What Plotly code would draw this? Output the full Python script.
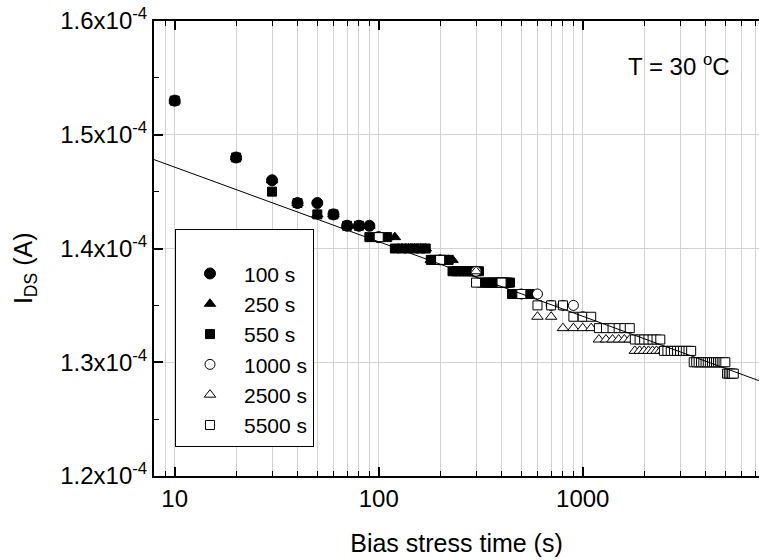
import plotly.graph_objects as go

# ---------------- data (I_DS in units of 1e-4 A) ----------------
t_100 = list(range(10, 101, 10))
i_100 = [1.53, 1.48, 1.46, 1.44, 1.44, 1.43, 1.42, 1.42, 1.42, 1.41]

t_250 = list(range(10, 251, 10))
i_250 = [1.53, 1.48, 1.46, 1.44, 1.43, 1.43, 1.42, 1.42, 1.42, 1.41,
         1.41, 1.41, 1.40, 1.40, 1.40, 1.40, 1.40, 1.39, 1.39, 1.39,
         1.39, 1.39, 1.39, 1.38, 1.38]

t_550 = list(range(10, 551, 10))
i_550 = [1.53, 1.48, 1.45, 1.44, 1.43, 1.43, 1.42, 1.42, 1.41, 1.41,
         1.41, 1.40, 1.40, 1.40, 1.40, 1.40, 1.40, 1.39, 1.39, 1.39,
         1.39, 1.39, 1.38, 1.38, 1.38, 1.38, 1.38, 1.38, 1.38, 1.38,
         1.38, 1.37, 1.37, 1.37, 1.37, 1.37, 1.37, 1.37, 1.37, 1.37,
         1.37, 1.37, 1.37, 1.37, 1.36, 1.36, 1.36, 1.36, 1.36, 1.36,
         1.36, 1.36, 1.36, 1.36, 1.36]

t_1000 = list(range(100, 1001, 100))
i_1000 = [1.41, 1.39, 1.38, 1.37, 1.36, 1.36, 1.35, 1.35, 1.35, 1.34]

t_2500 = list(range(100, 2501, 100))
i_2500 = [1.41, 1.39, 1.38, 1.37, 1.36, 1.34, 1.34, 1.33, 1.33, 1.33,
          1.33, 1.32, 1.32, 1.32, 1.32, 1.32, 1.32, 1.31, 1.31, 1.31,
          1.31, 1.31, 1.31, 1.31, 1.31]

t_5500 = list(range(100, 5501, 100))
i_5500 = [1.41, 1.39, 1.37, 1.37, 1.36, 1.35, 1.35, 1.35, 1.34, 1.34,
          1.34, 1.33, 1.33, 1.33, 1.33, 1.33, 1.33, 1.32, 1.32, 1.32,
          1.32, 1.32, 1.32, 1.32, 1.31, 1.31, 1.31, 1.31, 1.31, 1.31,
          1.31, 1.31, 1.31, 1.31, 1.30, 1.30, 1.30, 1.30, 1.30, 1.30,
          1.30, 1.30, 1.30, 1.30, 1.30, 1.30, 1.30, 1.30, 1.30, 1.30,
          1.29, 1.29, 1.29, 1.29, 1.29]

# straight-line fit (at the two plot edges)
fit_t = [7.91, 7311]
fit_i = [1.4782, 1.2838]

y_ticks = [1.2, 1.3, 1.4, 1.5, 1.6]
y_tick_text = ["1.2x10<sup>-4</sup>", "1.3x10<sup>-4</sup>", "1.4x10<sup>-4</sup>",
               "1.5x10<sup>-4</sup>", "1.6x10<sup>-4</sup>"]
y_minor = [1.25, 1.35, 1.45, 1.55]
x_ticks = [10, 100, 1000]
x_tick_text = ["10", "100", "1000"]
x_minor = [8, 9, 20, 30, 40, 50, 60, 70, 80, 90,
           200, 300, 400, 500, 600, 700, 800, 900,
           2000, 3000, 4000, 5000, 6000, 7000]

SCALE = 1e-4
FONT = "Liberation Sans, Arial, sans-serif"
GRID = "#d2d2d2"

series = [
    ("100 s", t_100, i_100, "circle", "black", 11),
    ("250 s", t_250, i_250, "triangle-up", "black", 10),
    ("550 s", t_550, i_550, "square", "black", 9),
    ("1000 s", t_1000, i_1000, "circle", "white", 10),
    ("2500 s", t_2500, i_2500, "triangle-up", "white", 10),
    ("5500 s", t_5500, i_5500, "square", "white", 9),
]

fig = go.Figure()
for name, t, i, sym, fill, size in series:
    fig.add_trace(go.Scatter(
        x=t, y=[v * SCALE for v in i], mode="markers", name=name,
        marker=dict(symbol=sym, size=size, color=fill,
                    line=dict(color="black", width=1)),
    ))

fig.add_trace(go.Scatter(
    x=fit_t, y=[v * SCALE for v in fit_i], mode="lines",
    line=dict(color="black", width=1), showlegend=False, hoverinfo="skip",
))

fig.update_xaxes(
    type="log", range=[0.8985, 3.864],
    tickmode="array", tickvals=x_ticks, ticktext=x_tick_text,
    ticks="inside", ticklen=9, tickwidth=1.5, tickcolor="black",
    showline=True, linewidth=2, linecolor="black", mirror="allticks",
    showgrid=True, gridcolor=GRID, gridwidth=1, zeroline=False,
    minor=dict(tickmode="array", tickvals=x_minor, ticks="inside", ticklen=5,
               tickwidth=1, tickcolor="black", showgrid=True,
               gridcolor=GRID, gridwidth=1),
    tickfont=dict(family=FONT, size=24, color="black"),
    title=dict(text="Bias stress time (s)", font=dict(family=FONT, size=25, color="black"),
               standoff=24),
)

fig.update_yaxes(
    range=[1.2 * SCALE, 1.6 * SCALE],
    tickmode="array", tickvals=[v * SCALE for v in y_ticks], ticktext=y_tick_text,
    ticks="inside", ticklen=9, tickwidth=1.5, tickcolor="black",
    showline=True, linewidth=2, linecolor="black", mirror=False,
    showgrid=True, gridcolor=GRID, gridwidth=1, zeroline=False,
    minor=dict(tickmode="array", tickvals=[v * SCALE for v in y_minor],
               ticks="inside", ticklen=5, tickwidth=1, tickcolor="black",
               showgrid=False),
    tickfont=dict(family=FONT, size=24, color="black"),
)

# y-axis title (placed as in the reference, slightly below the axis centre)
fig.add_annotation(
    text="I<sub>DS</sub> (A)", xref="paper", yref="paper",
    x=-0.2132, y=0.457, xanchor="center", yanchor="middle", textangle=-90,
    showarrow=False, font=dict(family=FONT, size=25, color="black"),
)

fig.add_annotation(
    text="T = 30 <sup>o</sup>C", xref="paper", yref="paper",
    x=0.955, y=0.903, xanchor="right", yanchor="middle", showarrow=False,
    font=dict(family=FONT, size=24, color="black"),
)

fig.update_layout(
    width=759, height=560,
    margin=dict(l=154, r=0, t=21, b=84),
    paper_bgcolor="white", plot_bgcolor="white",
    font=dict(family=FONT, size=23, color="black"),
    showlegend=True,
    legend=dict(
        x=0.0347, y=0.543, xanchor="left", yanchor="top",
        bgcolor="white", bordercolor="black", borderwidth=1,
        font=dict(family=FONT, size=21, color="black"),
        indentation=0, tracegroupgap=0, itemwidth=58,
        # blank spacer title (em spaces): sets the empty top band and the box width
        title=dict(text="\u2003" * 7, font=dict(size=18)),
    ),
)

fig.write_html("out.html")
